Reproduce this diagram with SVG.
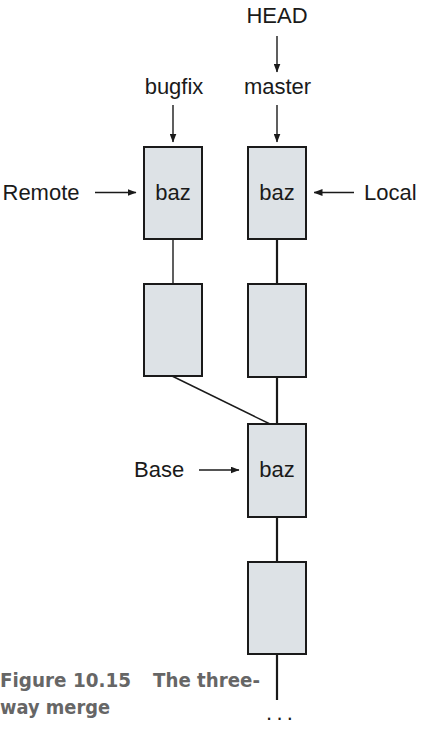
<svg xmlns="http://www.w3.org/2000/svg" width="422" height="729" viewBox="0 0 422 729">
<style>
.lbl{font-family:"Liberation Sans",Arial,sans-serif;font-size:22px;fill:#1a1a1a}
.mid{text-anchor:middle}
.box{fill:#dde2e6;stroke:#1a1a1a;stroke-width:2}
.ar{stroke:#1a1a1a;stroke-width:1.4;fill:none;marker-end:url(#ah)}
.thin{stroke:#1a1a1a;stroke-width:1.4;fill:none}
.thick{stroke:#1a1a1a;stroke-width:2.2;fill:none}
.cap{font-family:"DejaVu Sans",sans-serif;font-weight:bold;font-size:20px;fill:#666666}
</style>
<defs>
<marker id="ah" markerWidth="9" markerHeight="7" refX="8.5" refY="3.5" orient="auto" markerUnits="userSpaceOnUse">
<path d="M0,0 L9,3.5 L0,7 Z" fill="#1a1a1a"/>
</marker>
</defs>
<g id="connectors">
<line class="thin" x1="173" y1="239" x2="173" y2="283"/>
<line class="thick" x1="277" y1="239" x2="277" y2="284"/>
<line class="thick" x1="277" y1="377" x2="277" y2="424"/>
<line class="thick" x1="277" y1="517" x2="277" y2="562"/>
<line class="thick" x1="277" y1="654" x2="277" y2="700"/>
<line class="thin" x1="172" y1="376" x2="270" y2="424"/>
<line class="ar" x1="277" y1="36" x2="277" y2="72"/>
<line class="ar" x1="173" y1="105" x2="173" y2="142"/>
<line class="ar" x1="277" y1="105" x2="277" y2="142"/>
<line class="ar" x1="95" y1="192.5" x2="136" y2="192.5"/>
<line class="ar" x1="354" y1="192.5" x2="314" y2="192.5"/>
<line class="ar" x1="199" y1="470" x2="239" y2="470"/>
</g>
<g id="remote-commit"><rect class="box" x="144" y="147" width="58" height="92"/><text class="lbl mid" x="173" y="200">baz</text></g>
<g id="local-commit"><rect class="box" x="248" y="147" width="58" height="92"/><text class="lbl mid" x="277" y="200">baz</text></g>
<g id="bugfix-parent"><rect class="box" x="144" y="284" width="58" height="92"/></g>
<g id="master-parent"><rect class="box" x="248" y="284" width="58" height="93"/></g>
<g id="base-commit"><rect class="box" x="248" y="424" width="58" height="93"/><text class="lbl mid" x="277" y="477">baz</text></g>
<g id="older-commit"><rect class="box" x="248" y="562" width="58" height="92"/></g>
<g id="head"><text class="lbl mid" x="277" y="22.5">HEAD</text></g>
<g id="bugfix"><text class="lbl mid" x="174" y="94">bugfix</text></g>
<g id="master"><text class="lbl mid" x="277.5" y="94">master</text></g>
<g id="remote"><text class="lbl" x="2.5" y="199.5">Remote</text></g>
<g id="local"><text class="lbl" x="364" y="199.5">Local</text></g>
<g id="base"><text class="lbl" x="134" y="476.5">Base</text></g>
<g id="ellipsis"><text class="lbl" x="266" y="720" letter-spacing="4.3">...</text></g>
<g id="caption">
<text class="cap" x="0" y="687" textLength="131" lengthAdjust="spacingAndGlyphs">Figure 10.15</text>
<text class="cap" x="153" y="687" textLength="107" lengthAdjust="spacingAndGlyphs">The three-</text>
<text class="cap" x="0" y="714" textLength="110" lengthAdjust="spacingAndGlyphs">way merge</text>
</g>
</svg>
